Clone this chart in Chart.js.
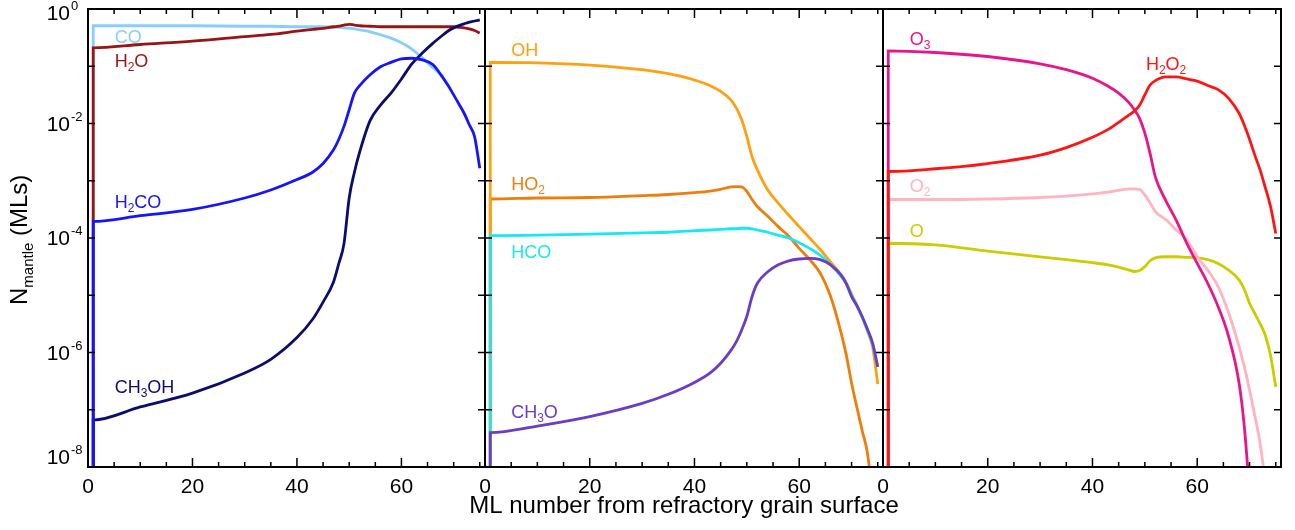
<!DOCTYPE html>
<html lang="en">
<head>
<meta charset="utf-8">
<title>Mantle abundances</title>
<script src="https://cdn.jsdelivr.net/npm/chart.js@4.4.1/dist/chart.umd.min.js"></script>
<style>
  body { margin: 0; background: #fff; }
  #wrap { position: relative; width: 1295px; height: 530px; overflow: hidden; }
  #wrap canvas { position: absolute; left: 0; top: 0; }
</style>
</head>
<body>
<div id="wrap">
  <canvas id="p1" width="1295" height="530"></canvas>
  <canvas id="p2" width="1295" height="530"></canvas>
  <canvas id="p3" width="1295" height="530"></canvas>
</div>
<script>
// ML grid (first point is the floor before the jump at ML 1)
var mlGrid = [1, 1, 10, 20, 30, 35, 40, 43, 45, 47, 48, 49, 50, 51, 52, 54, 56, 58, 60, 62, 64, 66, 68, 69, 70, 71, 72, 73, 74, 75];

// left panel
var coVals = [1e-10, 0.51, 0.51, 0.51, 0.50, 0.50, 0.49, 0.49, 0.49, 0.48, 0.48, 0.47, 0.46, 0.45, 0.43, 0.40, 0.355, 0.31, 0.257, 0.20, 0.141, 0.095, 0.066, null, null, null, null, null, null, null];
var h2oVals = [1e-10, 0.21, 0.24, 0.275, 0.33, 0.36, 0.41, 0.44, 0.46, 0.49, 0.50, 0.525, 0.54, 0.525, 0.51, 0.50, 0.49, 0.49, 0.49, 0.49, 0.49, 0.49, 0.49, 0.49, 0.49, 0.48, 0.47, 0.45, 0.42, 0.38];
var h2coVals = [1e-10, 1.95e-4, 2.45e-4, 3.16e-4, 5.0e-4, 6.9e-4, 1.05e-3, 1.41e-3, 2.0e-3, 3.47e-3, 5.25e-3, 8.9e-3, 1.74e-2, 3.39e-2, 4.57e-2, 7.1e-2, 9.8e-2, 0.117, 0.135, 0.138, 0.129, 0.107, 0.062, 0.045, 0.0316, 0.0219, 0.0151, 0.0095, 0.0059, 0.00166];
var ch3ohVals = [1e-10, 6.6e-8, 1.12e-7, 1.95e-7, 4.4e-7, 7.6e-7, 1.82e-6, 3.8e-6, 7.6e-6, 1.7e-5, 3.55e-5, 7.9e-5, 5.0e-4, 1.41e-3, 3.16e-3, 1.12e-2, 2.1e-2, 3.4e-2, 0.060, 0.110, 0.170, 0.251, 0.355, 0.417, 0.468, 0.513, 0.55, 0.59, 0.617, 0.646];

// middle panel
var ohVals = [1e-10, 0.117, 0.115, 0.105, 0.087, 0.074, 0.0575, 0.0457, 0.0363, 0.0257, 0.0186, 0.0117, 5.9e-3, 2.63e-3, 1.55e-3, 6.9e-4, 4.07e-4, 2.51e-4, 1.58e-4, 1.0e-4, 6.3e-5, 3.8e-5, 2.29e-5, 1.66e-5, 1.05e-5, 6.8e-6, 4.2e-6, 2.4e-6, 1.26e-6, 2.8e-7];
var ho2Vals = [1e-10, 4.8e-4, 5.0e-4, 5.1e-4, 5.5e-4, 5.75e-4, 6.2e-4, 6.6e-4, 7.1e-4, 7.8e-4, 7.9e-4, 7.8e-4, 6.5e-4, 4.7e-4, 3.55e-4, 2.4e-4, 1.58e-4, 1.07e-4, 6.6e-5, 4.2e-5, 2.45e-5, 9.5e-6, 2.2e-6, 8.9e-7, 2.9e-7, 1.12e-7, 4.4e-8, 1.8e-8, 3.2e-9, 3.2e-10];
var hcoVals = [1e-10, 1.1e-4, 1.12e-4, 1.17e-4, 1.23e-4, 1.26e-4, 1.35e-4, 1.38e-4, 1.41e-4, 1.45e-4, 1.45e-4, 1.48e-4, 1.48e-4, 1.45e-4, 1.38e-4, 1.26e-4, 1.12e-4, 1.0e-4, 8.3e-5, 6.6e-5, 5.0e-5, 3.4e-5, 2.14e-5, 1.58e-5, 1.0e-5, 6.6e-6, 4.2e-6, 2.5e-6, 1.41e-6, 5.6e-7];
var ch3oVals = [1e-10, 4.0e-8, 5.2e-8, 7.6e-8, 1.29e-7, 1.86e-7, 3.0e-7, 4.4e-7, 6.5e-7, 1.1e-6, 1.55e-6, 2.45e-6, 4.3e-6, 9.5e-6, 1.62e-5, 2.57e-5, 3.4e-5, 4.0e-5, 4.3e-5, 4.4e-5, 4.2e-5, 3.4e-5, 2.24e-5, 1.58e-5, 9.5e-6, 6.6e-6, 4.3e-6, 2.6e-6, 1.48e-6, 5.6e-7];

// right panel
var o3Vals = [1e-10, 0.186, 0.174, 0.148, 0.11, 0.087, 0.0617, 0.0447, 0.0339, 0.0229, 0.0174, 0.0123, 6.8e-3, 3.0e-3, 1.17e-3, 4.5e-4, 2.04e-4, 8.1e-5, 3.6e-5, 1.62e-5, 6.3e-6, 1.9e-6, 2.9e-7, 5.0e-8, 3.2e-9, 1e-10, null, null, null, null];
var o2Vals = [1e-10, 4.7e-4, 4.7e-4, 4.8e-4, 5.1e-4, 5.4e-4, 5.9e-4, 6.3e-4, 6.8e-4, 7.2e-4, 7.2e-4, 7.1e-4, 5.6e-4, 4.1e-4, 2.9e-4, 2.1e-4, 1.38e-4, 9.3e-5, 4.7e-5, 2.75e-5, 1.41e-5, 4.9e-6, 1.26e-6, 5.6e-7, 2.2e-7, 7.9e-8, 2.6e-8, 5.0e-9, 3.2e-10, null];
var h2o2Vals = [1e-10, 1.45e-3, 1.62e-3, 2.0e-3, 2.8e-3, 3.8e-3, 5.75e-3, 7.9e-3, 1.05e-2, 1.41e-2, 1.66e-2, 2.09e-2, 3.16e-2, 4.7e-2, 5.6e-2, 6.5e-2, 6.5e-2, 6.0e-2, 5.5e-2, 4.6e-2, 3.9e-2, 2.75e-2, 1.51e-2, 9.3e-3, 5.25e-3, 2.8e-3, 1.55e-3, 7.6e-4, 3.55e-4, 1.2e-4];
var oVals = [1e-10, 8.1e-5, 7.6e-5, 5.9e-5, 4.7e-5, 4.2e-5, 3.7e-5, 3.4e-5, 3.1e-5, 2.75e-5, 2.6e-5, 2.7e-5, 3.16e-5, 4.0e-5, 4.5e-5, 4.7e-5, 4.7e-5, 4.6e-5, 4.5e-5, 4.2e-5, 3.6e-5, 2.75e-5, 1.86e-5, 1.26e-5, 7.2e-6, 4.8e-6, 3.2e-6, 2.0e-6, 8.9e-7, 2.5e-7];

var yTickPowers = [0, -2, -4, -6, -8];
var xTitle = 'ML number from refractory grain surface';

var FONT = '"Liberation Sans", Arial, Helvetica, sans-serif';

function series(vals) {
    return mlGrid.map(function (x, i) { return { x: x, y: vals[i] }; });
}

// text like "H_2O_2": digit after "_" is a subscript
function drawChem(ctx, str, x, y, size) {
    var parts = str.split(/_(\d)/);
    var cx = x;
    parts.forEach(function (p, i) {
        var sub = i % 2 === 1;
        ctx.font = (sub ? Math.round(size * 0.66) : size) + 'px ' + FONT;
        ctx.fillText(p, cx, y + (sub ? 4 : 0));
        cx += ctx.measureText(p).width;
    });
}

var framePlugin = {
    id: 'frame',
    afterDatasetsDraw: function (chart) {
        var ctx = chart.ctx, a = chart.chartArea, xs = chart.scales.x, ys = chart.scales.y;
        ctx.save();
        ctx.strokeStyle = '#000';
        ctx.lineWidth = 2;
        ctx.strokeRect(a.left, a.top, a.right - a.left, a.bottom - a.top);
        ctx.lineWidth = 1.5;
        ctx.beginPath();
        for (var v = 5; v <= 75; v += 5) {
            var px = xs.getPixelForValue(v);
            var len = v % 20 === 0 ? 9 : 5;
            ctx.moveTo(px, a.bottom); ctx.lineTo(px, a.bottom - len);
            ctx.moveTo(px, a.top); ctx.lineTo(px, a.top + len);
        }
        for (var p = -7; p <= -1; p++) {
            var py = ys.getPixelForValue(Math.pow(10, p));
            ctx.moveTo(a.left, py); ctx.lineTo(a.left + 7, py);
            ctx.moveTo(a.right, py); ctx.lineTo(a.right - 7, py);
        }
        ctx.stroke();
        ctx.restore();
    }
};

var labelPlugin = {
    id: 'chemLabels',
    afterDatasetsDraw: function (chart, args, opts) {
        var ctx = chart.ctx;
        ctx.save();
        ctx.textBaseline = 'alphabetic';
        ctx.textAlign = 'left';
        (opts.items || []).forEach(function (it) {
            ctx.fillStyle = it.color;
            drawChem(ctx, it.text, chart.scales.x.getPixelForValue(it.ml), chart.scales.y.getPixelForValue(it.val), 18);
        });
        ctx.restore();
    }
};

// y tick labels (10^n) and the y title, left panel only
var yAxisPlugin = {
    id: 'yDecor',
    afterDraw: function (chart) {
        var ctx = chart.ctx, a = chart.chartArea, ys = chart.scales.y;
        ctx.save();
        ctx.fillStyle = '#000';
        ctx.textBaseline = 'middle';
        yTickPowers.forEach(function (p) {
            var py = ys.getPixelForValue(Math.pow(10, p));
            var c = Math.min(Math.max(py + 1.5, a.top + 5.5), a.bottom - 9);
            ctx.font = '21px ' + FONT;
            ctx.textAlign = 'right';
            ctx.fillText('10', a.left - 18, c);
            ctx.font = '13px ' + FONT;
            ctx.textAlign = 'left';
            ctx.fillText(String(p), a.left - 17, c - 8);
        });
        // N_mantle (MLs)
        ctx.translate(27, 305);
        ctx.rotate(-Math.PI / 2);
        ctx.textAlign = 'left';
        ctx.textBaseline = 'alphabetic';
        ctx.font = '24px ' + FONT;
        ctx.fillText('N', 0, 0);
        var w = ctx.measureText('N').width;
        ctx.font = '15px ' + FONT;
        ctx.fillText('mantle', w, 6);
        w += ctx.measureText('mantle').width;
        ctx.font = '24px ' + FONT;
        ctx.fillText(' (MLs)', w, 0);
        ctx.restore();
    }
};

// shared x title, centred under the middle panel
var xTitlePlugin = {
    id: 'xTitle',
    afterDraw: function (chart) {
        var ctx = chart.ctx, a = chart.chartArea;
        ctx.save();
        ctx.fillStyle = '#000';
        ctx.font = '24px ' + FONT;
        ctx.textAlign = 'center';
        ctx.textBaseline = 'alphabetic';
        ctx.fillText(xTitle, (a.left + a.right) / 2, a.bottom + 46);
        ctx.restore();
    }
};

function panelChart(id, sets, pad, labels, extra) {
    return new Chart(document.getElementById(id), {
        type: 'line',
        data: {
            datasets: sets.map(function (s) {
                return {
                    label: s.name,
                    data: series(s.vals),
                    borderColor: s.color,
                    borderWidth: 2.8,
                    pointRadius: 0,
                    fill: false,
                    cubicInterpolationMode: 'monotone',
                    order: s.order
                };
            })
        },
        options: {
            responsive: false,
            animation: false,
            devicePixelRatio: 1,
            layout: { padding: pad },
            plugins: {
                legend: { display: false },
                tooltip: { enabled: false },
                chemLabels: { items: labels }
            },
            scales: {
                x: {
                    type: 'linear',
                    min: 0,
                    max: 76,
                    grid: { display: false },
                    border: { display: false },
                    ticks: {
                        stepSize: 20,
                        includeBounds: false,
                        maxRotation: 0,
                        padding: 0,
                        color: '#000',
                        font: { family: FONT, size: 21 }
                    },
                    afterFit: function (s) {
                        s.height = 63;
                        s.paddingLeft = 0;
                        s.paddingRight = 0;
                    }
                },
                y: { type: 'logarithmic', min: 1e-8, max: 1, display: false }
            }
        },
        plugins: [framePlugin, labelPlugin].concat(extra || [])
    });
}

panelChart('p1', [
    { name: 'CO', vals: coVals, color: '#87cefa', order: 4 },
    { name: 'H2O', vals: h2oVals, color: '#991414', order: 3 },
    { name: 'CH3OH', vals: ch3ohVals, color: '#0c0c6e', order: 2 },
    { name: 'H2CO', vals: h2coVals, color: '#1414ff', order: 1 }
], { left: 88, right: 810, top: 9, bottom: 0 }, [
    { text: 'CO', ml: 5.1, val: 0.258, color: '#87cefa' },
    { text: 'H_2O', ml: 5.1, val: 0.098, color: '#991414' },
    { text: 'H_2CO', ml: 5.1, val: 3.36e-4, color: '#1414ff' },
    { text: 'CH_3OH', ml: 5.1, val: 1.96e-7, color: '#0c0c6e' }
], [yAxisPlugin]);

panelChart('p2', [
    { name: 'HO2', vals: ho2Vals, color: '#ef7d0c', order: 4 },
    { name: 'OH', vals: ohVals, color: '#ffa010', order: 3 },
    { name: 'HCO', vals: hcoVals, color: '#18e8f2', order: 2 },
    { name: 'CH3O', vals: ch3oVals, color: '#6a3cc8', order: 1 }
], { left: 485, right: 412, top: 9, bottom: 0 }, [
    { text: 'OH', ml: 5.0, val: 0.153, color: '#ffa010' },
    { text: 'HO_2', ml: 5.0, val: 6.9e-4, color: '#ef7d0c' },
    { text: 'HCO', ml: 5.0, val: 4.5e-5, color: '#18e8f2' },
    { text: 'CH_3O', ml: 5.0, val: 7.2e-8, color: '#6a3cc8' }
], [xTitlePlugin]);

panelChart('p3', [
    { name: 'O', vals: oVals, color: '#cccc00', order: 4 },
    { name: 'O2', vals: o2Vals, color: '#ffb4c0', order: 3 },
    { name: 'O3', vals: o3Vals, color: '#e8148c', order: 2 },
    { name: 'H2O2', vals: h2o2Vals, color: '#ff1414', order: 1 }
], { left: 883, right: 14, top: 9, bottom: 0 }, [
    { text: 'O_3', ml: 5.1, val: 0.238, color: '#e8148c' },
    { text: 'H_2O_2', ml: 50.2, val: 0.087, color: '#ff1414' },
    { text: 'O_2', ml: 5.1, val: 6.4e-4, color: '#ffb4c0' },
    { text: 'O', ml: 5.1, val: 1.05e-4, color: '#cccc00' }
], []);
</script>
</body>
</html>
